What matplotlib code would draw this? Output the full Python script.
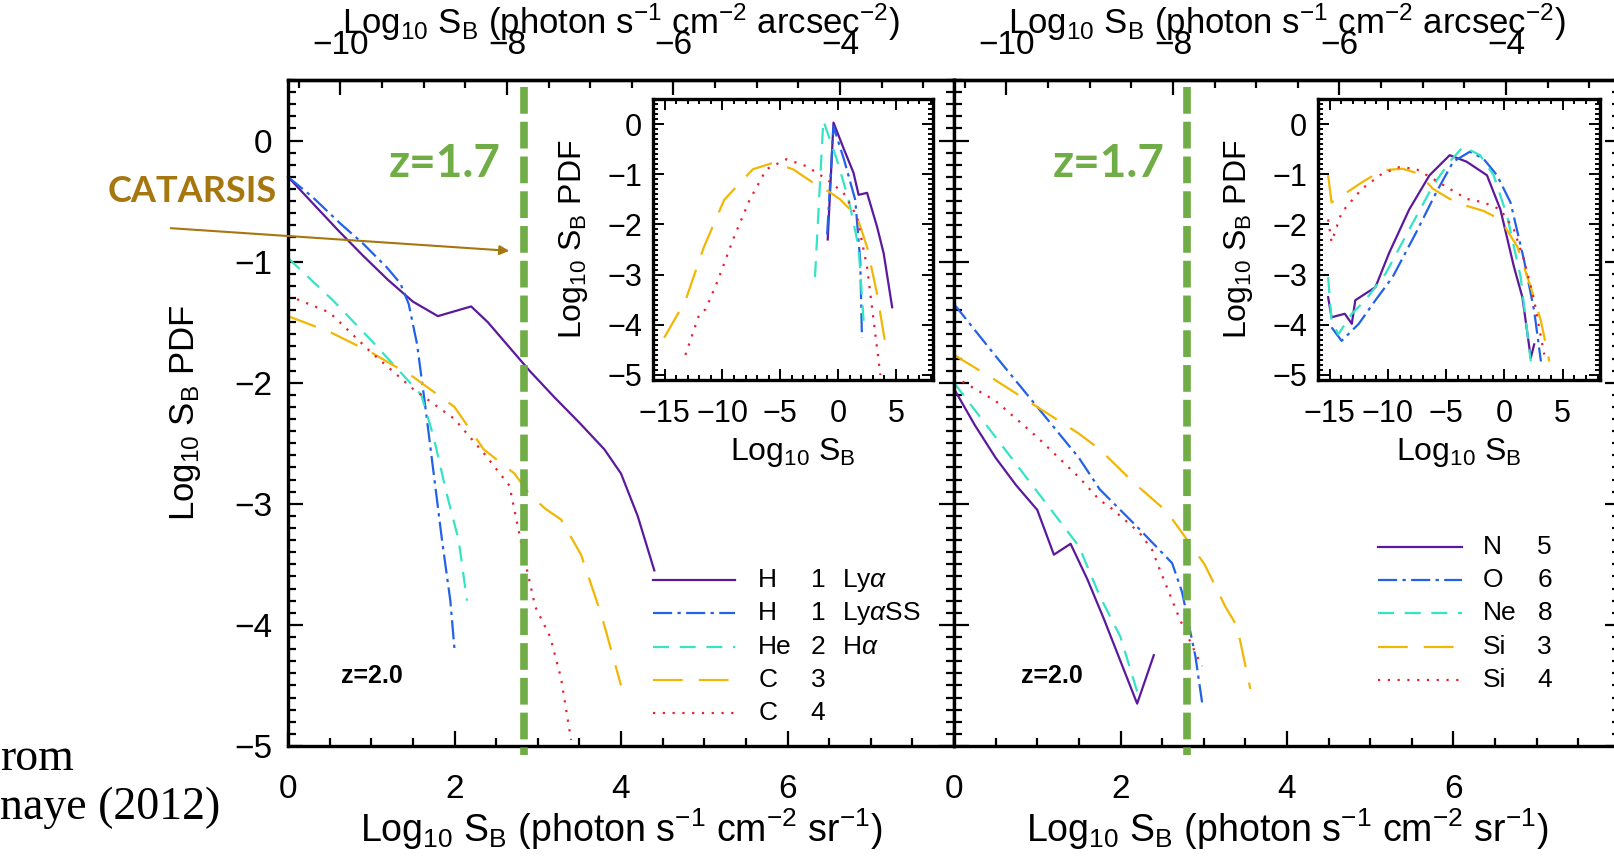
import numpy as np
import matplotlib
matplotlib.use('Agg')
import matplotlib.pyplot as plt
from matplotlib import font_manager
from matplotlib.ticker import MultipleLocator, FixedLocator
from matplotlib.transforms import blended_transform_factory
from matplotlib.patches import FancyArrowPatch

plt.rcParams['font.family'] = ['Liberation Sans', 'DejaVu Sans']
plt.rcParams['mathtext.fontset'] = 'custom'
plt.rcParams['mathtext.rm'] = 'Liberation Sans'
plt.rcParams['mathtext.it'] = 'Liberation Sans:italic'
plt.rcParams['mathtext.bf'] = 'Liberation Sans:bold'

## ---------------- data ----------------
## main left panel, x = Log10 SB (photon s^-1 cm^-2 sr^-1)
left_lya_x = [0, 0.3, 0.6, 0.9, 1.2, 1.5, 1.8, 2.0, 2.2, 2.4, 2.6, 2.9, 3.2, 3.5, 3.8, 4.0, 4.2, 4.4]
left_lya_y = [-0.30, -0.52, -0.74, -0.95, -1.15, -1.33, -1.45, -1.41, -1.37, -1.50, -1.66, -1.90, -2.12, -2.33, -2.55, -2.75, -3.10, -3.55]
left_lyass_x = [0, 0.3, 0.62, 0.9, 1.19, 1.35, 1.45, 1.55, 1.65, 1.75, 1.85, 1.95, 2.0]
left_lyass_y = [-0.30, -0.47, -0.68, -0.85, -1.05, -1.18, -1.35, -1.68, -2.20, -2.75, -3.30, -3.80, -4.20]
left_he2_x = [0, 0.54, 1.0, 1.4, 1.6, 1.75, 1.9, 2.05, 2.15]
left_he2_y = [-0.97, -1.32, -1.65, -1.95, -2.10, -2.45, -2.90, -3.30, -3.80]
left_c3_x = [0, 0.5, 1.0, 1.5, 2.0, 2.35, 2.72, 2.9, 3.09, 3.28, 3.52, 3.77, 4.0]
left_c3_y = [-1.45, -1.58, -1.75, -1.95, -2.20, -2.55, -2.75, -2.92, -3.04, -3.13, -3.42, -3.93, -4.50]
left_c4_x = [0, 0.5, 1.0, 1.5, 2.0, 2.35, 2.66, 2.83, 2.97, 3.15, 3.28, 3.4]
left_c4_y = [-1.28, -1.42, -1.75, -2.05, -2.30, -2.58, -2.85, -3.42, -3.85, -4.10, -4.44, -4.95]

## main right panel
right_n5_x = [0, 0.25, 0.5, 0.75, 1.0, 1.2, 1.4, 1.6, 1.8, 2.0, 2.2, 2.4]
right_n5_y = [-2.05, -2.35, -2.62, -2.85, -3.05, -3.42, -3.33, -3.62, -3.95, -4.30, -4.65, -4.25]
right_o6_x = [0, 0.5, 1.0, 1.5, 1.75, 2.2, 2.62, 2.74, 2.9, 2.98]
right_o6_y = [-1.35, -1.78, -2.20, -2.62, -2.88, -3.19, -3.49, -3.73, -4.26, -4.64]
right_ne8_x = [0, 0.5, 1.0, 1.5, 1.75, 2.0, 2.2]
right_ne8_y = [-2.00, -2.45, -2.90, -3.35, -3.76, -4.10, -4.55]
right_si3_x = [0, 0.5, 1.0, 1.5, 1.75, 2.15, 2.55, 2.71, 3.01, 3.26, 3.4, 3.56]
right_si3_y = [-1.77, -1.98, -2.20, -2.42, -2.55, -2.82, -3.06, -3.21, -3.50, -3.85, -4.01, -4.53]
right_si4_x = [0, 0.5, 1.0, 1.5, 1.75, 1.88, 2.23, 2.38, 2.47, 2.71, 2.92, 2.98]
right_si4_y = [-1.95, -2.15, -2.45, -2.78, -2.97, -3.03, -3.24, -3.38, -3.54, -3.95, -4.26, -4.34]

## left inset, full range of Log10 SB
inl_lya_x = [-0.9, -0.4, 0.5, 1.33, 1.77, 2.5, 3.37, 3.94, 4.67]
inl_lya_y = [-2.3, 0.03, -0.5, -0.97, -1.41, -1.37, -2.05, -2.58, -3.65]
inl_lyass_x = [-0.95, -0.4, 0.5, 1.48, 1.91, 2.06]
inl_lyass_y = [-2.2, -0.05, -0.7, -1.51, -2.72, -4.26]
inl_he2_x = [-2.0, -1.28, -0.12, 0.9, 1.77, 2.2]
inl_he2_y = [-3.05, 0.07, -0.7, -1.5, -2.45, -3.92]
inl_c3_x = [-15.04, -13.2, -11.6, -9.85, -7.37, -5.6, -3.9, -2.15, -0.84, 0.17, 1.63, 2.5, 3.37, 4.24]
inl_c3_y = [-4.26, -3.52, -2.45, -1.51, -0.90, -0.77, -0.90, -1.17, -1.34, -1.50, -1.84, -2.45, -3.39, -4.60]
inl_c4_x = [-13.2, -12.0, -11.45, -10.4, -9.1, -7.65, -6.2, -4.46, -2.72, -0.98, 0.46, 1.63, 2.5, 3.07, 3.65]
inl_c4_y = [-4.60, -3.79, -3.69, -3.12, -2.31, -1.51, -0.90, -0.70, -0.84, -1.10, -1.37, -1.84, -2.85, -3.92, -5.0]

## right inset
inr_n5_x = [-15.13, -14.84, -13.7, -13.1, -12.8, -11.07, -9.9, -8.17, -6.43, -4.7, -3.24, -1.5, -0.35, 0.81, 1.54, 2.26, 2.55]
inr_n5_y = [-3.45, -3.85, -3.78, -3.98, -3.51, -3.25, -2.57, -1.70, -1.02, -0.62, -0.75, -1.02, -1.70, -2.84, -3.45, -4.66, -4.39]
inr_o6_x = [-14.84, -13.97, -12.5, -11.07, -9.6, -7.6, -5.85, -4.4, -2.96, -1.8, -0.64, 0.52, 1.68, 2.55, 3.13]
inr_o6_y = [-4.05, -4.32, -3.98, -3.51, -3.05, -2.17, -1.36, -0.75, -0.55, -0.69, -1.02, -1.56, -2.71, -3.72, -4.73]
inr_ne8_x = [-15.13, -14.84, -14.26, -13.1, -11.94, -10.2, -8.17, -6.14, -4.7, -3.54, -2.09, -0.93, 0.23, 1.39, 2.26]
inr_ne8_y = [-3.05, -3.91, -4.19, -3.78, -3.51, -2.98, -2.10, -1.23, -0.75, -0.45, -0.62, -1.02, -1.83, -3.05, -4.73]
inr_si3_x = [-15.13, -14.84, -13.97, -12.23, -10.5, -8.76, -7.3, -6.14, -4.7, -3.24, -1.8, -0.35, 1.1, 2.26, 3.13, 3.85]
inr_si3_y = [-1.02, -1.56, -1.43, -1.16, -0.92, -0.89, -0.99, -1.29, -1.49, -1.63, -1.73, -1.90, -2.44, -3.25, -3.92, -4.73]
inr_si4_x = [-15.13, -14.84, -13.97, -12.23, -10.5, -9.04, -7.6, -6.14, -4.7, -3.24, -1.8, -0.35, 0.81, 1.68, 2.55, 3.13, 3.42]
inr_si4_y = [-1.90, -2.35, -1.76, -1.29, -0.99, -0.86, -0.89, -1.09, -1.29, -1.49, -1.56, -1.70, -2.10, -2.71, -3.51, -4.25, -4.59]

left_ions = ['H', 'H', 'He', 'C', 'C']
left_stages = ['1', '1', '2', '3', '4']
left_lines = [r'Ly$\alpha$', r'Ly$\alpha$SS', r'H$\alpha$', '', '']
right_ions = ['N', 'O', 'Ne', 'Si', 'Si']
right_stages = ['5', '6', '8', '3', '4']

bottom_ticks = [0, 2, 4, 6]
top_ticks = [-10, -8, -6, -4]
z_marker = [2.83, 2.80]       # green "z=1.7" limit, per panel
sr_to_arcsec2 = 10.63          # log10 of arcsec^2 per sr

## ---------------- styles ----------------
colors = ['#5B1A9E', '#2262E8', '#35E3C5', '#F2B705', '#E8202E']
styles = ['-', (0, (8.6, 2.4, 1.5, 2.4)), (0, (7.2, 4.8)), (0, (13.4, 7.2)), (0, (1, 3.4))]
green = '#70AD47'
brown = '#A6760F'

installed = {f.name for f in font_manager.fontManager.ttflist}
narrow = 'Liberation Sans Narrow' in installed

W, H = 1614, 856
fig = plt.figure(figsize=(W / 100, H / 100), dpi=100)

def px_axes(x0, y0, x1, y1):
    return fig.add_axes([x0 / W, 1 - y1 / H, (x1 - x0) / W, (y1 - y0) / H])

lab_sb = r'Log$_{10}$ S$_{\rm B}$'
lab_sr = r'Log$_{10}$ S$_{\rm B}$ (photon s$^{-1}$ cm$^{-2}$ sr$^{-1}$)'
lab_as = r'Log$_{10}$ S$_{\rm B}$ (photon s$^{-1}$ cm$^{-2}$ arcsec$^{-2}$)'

def style_main(ax, show_ylabels):
    ax.set_xlim(0, 8)
    ax.set_ylim(-5, 0.5)
    for s in ax.spines.values():
        s.set_linewidth(2.4)
    ax.xaxis.set_major_locator(FixedLocator(bottom_ticks))
    ax.xaxis.set_minor_locator(MultipleLocator(0.5))
    ax.yaxis.set_major_locator(MultipleLocator(1))
    ax.yaxis.set_minor_locator(MultipleLocator(0.1))
    ax.tick_params(which='both', direction='in', top=False, right=True, width=1.6)
    ax.tick_params(which='major', length=11)
    ax.tick_params(which='minor', length=5.5)
    ax.tick_params(axis='x', labelsize=24, pad=20)
    ax.tick_params(axis='y', labelsize=24, pad=11, labelleft=show_ylabels)
    ax.set_xlabel(lab_sr, fontsize=27)
    ax.xaxis.set_label_coords(0.5, -0.09)
    sec = ax.secondary_xaxis('top', functions=(lambda v: v - sr_to_arcsec2, lambda v: v + sr_to_arcsec2))
    sec.xaxis.set_major_locator(FixedLocator(top_ticks))
    sec.xaxis.set_minor_locator(MultipleLocator(0.5))
    sec.tick_params(which='both', direction='in', width=1.6, labelsize=24, pad=14)
    sec.tick_params(which='major', length=11)
    sec.tick_params(which='minor', length=5.5)
    sec.set_xlabel(lab_as, fontsize=25, labelpad=-3)
    sec.spines['top'].set_linewidth(2.4)

def style_inset(ax):
    ax.set_xlim(-16, 8.2)
    ax.set_ylim(-5.1, 0.5)
    for s in ax.spines.values():
        s.set_linewidth(2.4)
    ax.xaxis.set_major_locator(MultipleLocator(5))
    ax.xaxis.set_minor_locator(MultipleLocator(1))
    ax.yaxis.set_major_locator(MultipleLocator(1))
    ax.yaxis.set_minor_locator(MultipleLocator(0.1))
    ax.tick_params(which='both', direction='in', top=True, right=True, width=1.4)
    ax.tick_params(which='major', length=8)
    ax.tick_params(which='minor', length=3.5)
    ax.tick_params(axis='x', labelsize=22, pad=14)
    ax.tick_params(axis='y', labelsize=22, pad=8)
    ax.set_xlabel(lab_sb, fontsize=23, labelpad=5)
    ax.set_ylabel(lab_sb + ' PDF', fontsize=23, labelpad=12)

## ---------------- left panel ----------------
axL = px_axes(288, 80, 954, 746)
style_main(axL, True)
axL.set_ylabel(lab_sb + ' PDF', fontsize=25)
axL.yaxis.set_label_coords(-0.128, 0.5)
left_x = [left_lya_x, left_lyass_x, left_he2_x, left_c3_x, left_c4_x]
left_y = [left_lya_y, left_lyass_y, left_he2_y, left_c3_y, left_c4_y]
for xs, ys, c, ls in zip(left_x, left_y, colors, styles):
    axL.plot(xs, ys, color=c, linestyle=ls, linewidth=1.6, clip_on=False)

## ---------------- right panel ----------------
axR = px_axes(954, 80, 1620, 746)
style_main(axR, False)
right_x = [right_n5_x, right_o6_x, right_ne8_x, right_si3_x, right_si4_x]
right_y = [right_n5_y, right_o6_y, right_ne8_y, right_si3_y, right_si4_y]
for xs, ys, c, ls in zip(right_x, right_y, colors, styles):
    axR.plot(xs, ys, color=c, linestyle=ls, linewidth=1.6)

## legends, drawn by hand in axes fraction
def hand_legend(ax, x0, x1, y_top, ions, stages, names, x_ion, x_stage, x_name):
    for i in range(5):
        yy = y_top - 0.05 * i
        ax.plot([x0, x1], [yy, yy], transform=ax.transAxes, color=colors[i],
                linestyle=styles[i], linewidth=1.6)
        ax.text(x_ion, yy, ions[i], transform=ax.transAxes, fontsize=19, va='center', ha='left')
        ax.text(x_stage, yy, stages[i], transform=ax.transAxes, fontsize=19, va='center', ha='center')
        if names is not None and names[i]:
            ax.text(x_name, yy, names[i], transform=ax.transAxes, fontsize=19, va='center', ha='left')

hand_legend(axL, 0.548, 0.671, 0.249, left_ions, left_stages, left_lines, 0.706, 0.796, 0.832)
hand_legend(axR, 0.637, 0.763, 0.299, right_ions, right_stages, None, 0.794, 0.887, 0)

axL.text(0.08, 0.105, 'z=2.0', transform=axL.transAxes, fontsize=18, fontweight='bold', va='center', ha='left')
axR.text(0.10, 0.105, 'z=2.0', transform=axR.transAxes, fontsize=18, fontweight='bold', va='center', ha='left')

## ---------------- insets ----------------
inL = px_axes(653, 99, 933, 380)
style_inset(inL)
inl_x = [inl_lya_x, inl_lyass_x, inl_he2_x, inl_c3_x, inl_c4_x]
inl_y = [inl_lya_y, inl_lyass_y, inl_he2_y, inl_c3_y, inl_c4_y]
for xs, ys, c, ls in zip(inl_x, inl_y, colors, styles):
    inL.plot(xs, ys, color=c, linestyle=ls, linewidth=1.6)

inR = px_axes(1318, 99, 1600, 380)
style_inset(inR)
inr_x = [inr_n5_x, inr_o6_x, inr_ne8_x, inr_si3_x, inr_si4_x]
inr_y = [inr_n5_y, inr_o6_y, inr_ne8_y, inr_si3_y, inr_si4_y]
for xs, ys, c, ls in zip(inr_x, inr_y, colors, styles):
    inR.plot(xs, ys, color=c, linestyle=ls, linewidth=1.6)

## ---------------- green z=1.7 overlay ----------------
for ax, xz in zip((axL, axR), z_marker):
    tr = blended_transform_factory(ax.transData, ax.transAxes)
    ax.plot([xz, xz], [0.99, -0.014], transform=tr, color=green, linewidth=5.5,
            linestyle=(0, (3.5, 1.05)), clip_on=False, zorder=5)
    ax.text(xz - 0.27, 0.874, 'z=1.7', transform=tr, color=green, fontsize=33,
            fontweight='bold', family='Lato', ha='right', va='center')

## CATARSIS annotation
if narrow:
    fig.text(108 / W, 1 - 191 / H, 'CATARSIS', color=brown, fontsize=31, fontweight='bold',
             family='Liberation Sans Narrow', ha='left', va='center')
else:
    fig.text(108 / W, 1 - 191 / H, 'CATARSIS', color=brown, fontsize=26, fontweight='bold',
             family='Lato', ha='left', va='center')
fig.add_artist(FancyArrowPatch((168 / W, 1 - 228 / H), (512 / W, 1 - 251 / H),
                               transform=fig.transFigure, arrowstyle='-|>',
                               mutation_scale=14, color=brown, linewidth=1.5))

## partially cut caption
fig.text(0, 1 - 770 / H, 'rom', fontsize=33, family='Liberation Serif', ha='left', va='baseline')
fig.text(0, 1 - 819 / H, 'naye (2012)', fontsize=33, family='Liberation Serif', ha='left', va='baseline')

fig.savefig('out.png', dpi=100)
